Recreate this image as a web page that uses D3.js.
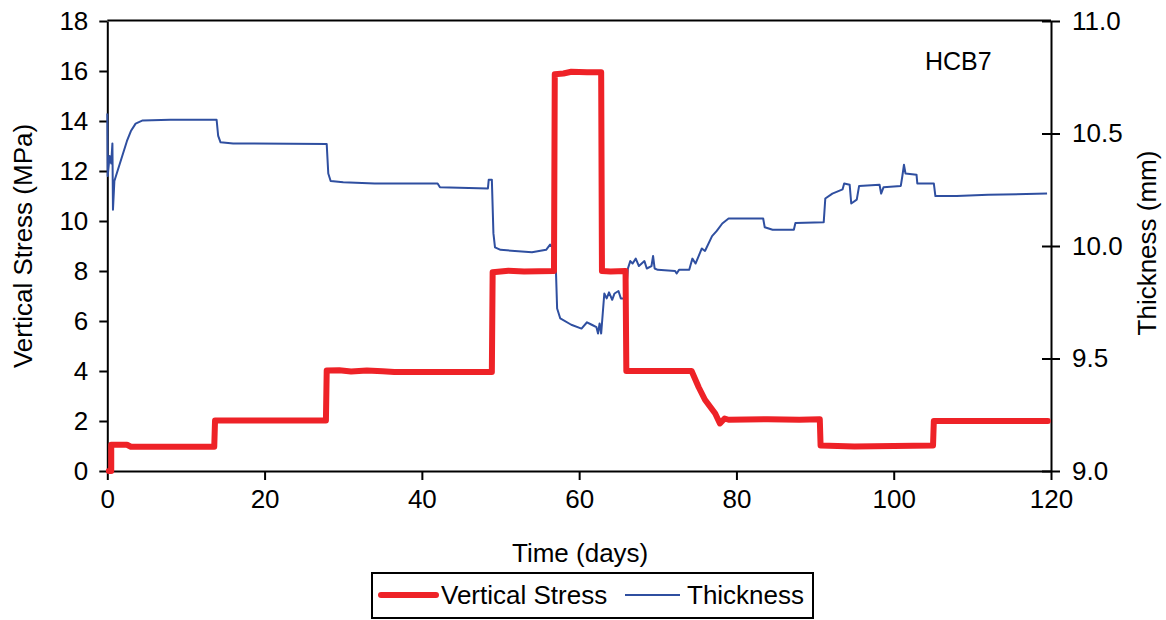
<!DOCTYPE html>
<html>
<head>
<meta charset="utf-8">
<script src="https://cdn.jsdelivr.net/npm/d3@7"></script>
<style>
  html, body { margin: 0; padding: 0; background: #fff; }
  svg { display: block; }
  text { font-family: "Liberation Sans", Arial, sans-serif; fill: #000; }
</style>
</head>
<body>
<svg id="chart" width="1166" height="620"></svg>
<script>
// ---------------- data ----------------
const xTicks = [0, 20, 40, 60, 80, 100, 120];
const stressTicks = [0, 2, 4, 6, 8, 10, 12, 14, 16, 18];
const thicknessTicks = [9.0, 9.5, 10.0, 10.5, 11.0];

const stressDays = [0.2, 0.5, 0.5, 2.5, 3.0, 13.6, 13.7, 27.8, 27.9, 29.5, 31, 33, 35, 36.5, 48.9, 49.0,
  51, 53, 56.8, 56.9, 58, 59, 61, 62.8, 62.9, 64, 65.9, 66.0, 74.3, 75.2, 76.0, 77.3, 77.9, 78.5, 79.0,
  84, 88, 90.6, 90.7, 95, 100, 105.0, 105.1, 118.5, 119.6];
const stressValues = [0, 0, 1.05, 1.05, 0.97, 0.97, 2.02, 2.02, 4.02, 4.03, 3.98, 4.02, 3.99, 3.96, 3.96, 7.95,
  8.01, 7.98, 8.0, 15.87, 15.9, 15.97, 15.95, 15.95, 8.0, 7.98, 8.0, 4.0, 4.0, 3.35, 2.85, 2.3, 1.9, 2.1, 2.05,
  2.07, 2.05, 2.07, 1.02, 0.98, 1.0, 1.02, 2.0, 2.0, 2.0];

const thicknessDays = [0.0, 0.05, 0.3, 0.5, 0.65, 0.72, 0.9, 1.2, 1.9, 2.5, 3.0, 3.6, 4.5, 8, 13.9, 14.1, 14.4,
  16, 27.9, 28.1, 28.4, 30, 34, 42, 42.3, 48.4, 48.5, 48.9, 49.1, 49.3, 50, 54, 55.8, 56.3, 56.8, 57.0,
  57.2, 57.6, 59, 60.3, 61, 61.6, 62.2, 62.4, 62.6, 62.8, 63.0, 63.2, 63.5, 63.8, 64.2, 64.5, 65.0, 65.3,
  65.9, 66.2, 66.5, 66.8, 67.2, 67.6, 68.3, 68.6, 69.2, 69.4, 69.6, 70, 72.2, 72.4, 72.7, 74, 74.4, 74.8,
  75.6, 76, 76.9, 77.5, 78.2, 79, 80, 83.4, 83.6, 84.6, 87.3, 87.5, 91.1, 91.3, 92.2, 93.5, 93.7, 94.4,
  94.6, 95.3, 95.6, 98.2, 98.4, 98.7, 100.9, 101.1, 101.3, 101.5, 102.9, 103.0, 105.1, 105.3, 108, 112, 119.5];
const thicknessMM = [10.589, 10.311, 10.400, 10.367, 10.456, 10.161, 10.289, 10.322, 10.400, 10.467, 10.511,
  10.544, 10.558, 10.561, 10.561, 10.489, 10.461, 10.456, 10.453, 10.322, 10.289, 10.283, 10.278, 10.278,
  10.261, 10.256, 10.294, 10.294, 10.056, 9.994, 9.983, 9.972, 9.983, 10.006, 9.989, 9.944, 9.722, 9.678,
  9.650, 9.633, 9.661, 9.650, 9.639, 9.611, 9.656, 9.611, 9.700, 9.789, 9.767, 9.794, 9.761, 9.789, 9.800,
  9.767, 9.767, 9.900, 9.933, 9.922, 9.944, 9.911, 9.933, 9.900, 9.911, 9.956, 9.900, 9.894, 9.889, 9.878,
  9.894, 9.894, 9.944, 9.922, 9.989, 9.978, 10.044, 10.067, 10.100, 10.122, 10.122, 10.122, 10.083, 10.072,
  10.072, 10.102, 10.106, 10.211, 10.233, 10.252, 10.278, 10.272, 10.189, 10.206, 10.267, 10.272, 10.233,
  10.261, 10.267, 10.311, 10.361, 10.322, 10.317, 10.278, 10.278, 10.222, 10.222, 10.228, 10.233];

const seriesNames = ["Vertical Stress", "Thickness"];
const seriesColors = ["#ee2227", "#2f4fa0"];

// ---------------- chart ----------------
const svg = d3.select("#chart");
const L = 107.3, R = 1051, T = 21, B = 471;
const FONT = 26;

const x = d3.scaleLinear().domain([0, 120]).range([L, R]);
const y = d3.scaleLinear().domain([0, 18]).range([B, T]);
const yR = d3.scaleLinear().domain([9, 11]).range([B, T]);

// frame (top border)
svg.append("line").attr("x1", L).attr("x2", R).attr("y1", T - 0.5).attr("y2", T - 0.5)
  .attr("stroke", "#000").attr("stroke-width", 2);

function styleAxis(g) {
  g.select(".domain").attr("stroke", "#000").attr("stroke-width", 2);
  g.selectAll(".tick line").attr("stroke", "#000").attr("stroke-width", 2);
  g.selectAll(".tick text").attr("font-family", "Liberation Sans, Arial, sans-serif")
    .attr("font-size", FONT).attr("fill", "#000");
}

const gx = svg.append("g").attr("transform", `translate(0,${B})`)
  .call(d3.axisBottom(x).tickValues(xTicks).tickFormat(d3.format("d")).tickSize(9).tickSizeOuter(0).tickPadding(10));
styleAxis(gx);

const gy = svg.append("g").attr("transform", `translate(${L},0)`)
  .call(d3.axisLeft(y).tickValues(stressTicks).tickFormat(d3.format("d")).tickSize(8).tickSizeOuter(0).tickPadding(11));
styleAxis(gy);

const gyR = svg.append("g").attr("transform", `translate(${R},0)`)
  .call(d3.axisRight(yR).tickValues(thicknessTicks).tickFormat(d3.format(".1f")).tickSize(9).tickSizeOuter(0).tickPadding(12));
styleAxis(gyR);
gyR.selectAll(".tick line").attr("x1", -9);

// axis titles
svg.append("text").attr("x", (L + R) / 2 + 1).attr("y", 562).attr("text-anchor", "middle")
  .attr("font-size", FONT).text("Time (days)");
svg.append("text").attr("transform", "translate(32,246) rotate(-90)").attr("text-anchor", "middle")
  .attr("font-size", FONT).text("Vertical Stress (MPa)");
svg.append("text").attr("transform", "translate(1156,243) rotate(-90)").attr("text-anchor", "middle")
  .attr("font-size", FONT).text("Thickness (mm)");

// annotation
svg.append("text").attr("x", 925).attr("y", 70).attr("font-size", 25).text("HCB7");

// lines
const thickData = thicknessDays.map((d, i) => [d, thicknessMM[i]]);
const stressData = stressDays.map((d, i) => [d, stressValues[i]]);

svg.append("path").datum(thickData)
  .attr("fill", "none").attr("stroke", seriesColors[1]).attr("stroke-width", 2)
  .attr("stroke-linejoin", "round")
  .attr("d", d3.line().x(d => x(d[0])).y(d => yR(d[1])));

svg.append("path").datum(stressData)
  .attr("fill", "none").attr("stroke", seriesColors[0]).attr("stroke-width", 6)
  .attr("stroke-linejoin", "round").attr("stroke-linecap", "round")
  .attr("d", d3.line().x(d => x(d[0])).y(d => y(d[1])));

// legend
const lg = svg.append("g");
lg.append("rect").attr("x", 372).attr("y", 573).attr("width", 441).attr("height", 45)
  .attr("fill", "#fff").attr("stroke", "#000").attr("stroke-width", 2);
lg.append("line").attr("x1", 381).attr("x2", 436).attr("y1", 595).attr("y2", 595)
  .attr("stroke", seriesColors[0]).attr("stroke-width", 6).attr("stroke-linecap", "round");
lg.append("text").attr("x", 441).attr("y", 604).attr("font-size", FONT).text(seriesNames[0]);
lg.append("line").attr("x1", 625).attr("x2", 680).attr("y1", 595).attr("y2", 595)
  .attr("stroke", seriesColors[1]).attr("stroke-width", 2);
lg.append("text").attr("x", 687).attr("y", 604).attr("font-size", FONT).text(seriesNames[1]);
</script>
</body>
</html>
